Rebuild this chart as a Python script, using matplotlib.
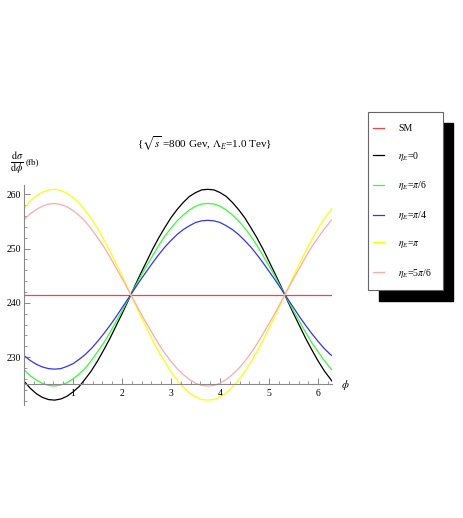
import numpy as np
import matplotlib
matplotlib.use("Agg")
import matplotlib.pyplot as plt
from matplotlib.patches import Rectangle
from matplotlib.lines import Line2D
from matplotlib.ticker import MultipleLocator

plt.rcParams['font.family'] = ['Liberation Serif', 'DejaVu Serif']
plt.rcParams['mathtext.fontset'] = 'stix'

phi = [0.0, 0.125, 0.25, 0.375, 0.5, 0.625, 0.75, 0.875, 1.0, 1.125, 1.25, 1.375,
       1.5, 1.625, 1.75, 1.875, 2.0, 2.125, 2.25, 2.375, 2.5, 2.625, 2.75, 2.875,
       3.0, 3.125, 3.25, 3.375, 3.5, 3.625, 3.75, 3.875, 4.0, 4.125, 4.25, 4.375,
       4.5, 4.625, 4.75, 4.875, 5.0, 5.125, 5.25, 5.375, 5.5, 5.625, 5.75, 5.875,
       6.0, 6.125, 6.25, 6.283]

sm = [241.5] * len(phi)
eta_0 = [225.6, 224.3, 223.3, 222.6, 222.2, 222.1, 222.3, 222.8, 223.6, 224.6, 226.0,
         227.5, 229.3, 231.3, 233.4, 235.7, 238.0, 240.4, 242.9, 245.3, 247.6, 249.9,
         252.0, 253.9, 255.7, 257.2, 258.5, 259.6, 260.3, 260.8, 260.9, 260.8, 260.3,
         259.6, 258.5, 257.2, 255.7, 253.9, 252.0, 249.9, 247.6, 245.3, 242.9, 240.4,
         238.0, 235.7, 233.4, 231.3, 229.3, 227.5, 226.0, 225.6]
eta_pi6 = [227.7, 226.6, 225.8, 225.2, 224.8, 224.7, 224.9, 225.3, 226.0, 226.9, 228.0,
           229.4, 231.0, 232.6, 234.5, 236.5, 238.5, 240.6, 242.7, 244.8, 246.8, 248.7,
           250.6, 252.3, 253.8, 255.1, 256.2, 257.1, 257.8, 258.2, 258.3, 258.2, 257.8,
           257.1, 256.2, 255.1, 253.8, 252.3, 250.6, 248.7, 246.8, 244.8, 242.7, 240.6,
           238.5, 236.5, 234.5, 232.6, 231.0, 229.4, 228.0, 227.7]
eta_pi4 = [230.3, 229.4, 228.7, 228.2, 227.9, 227.8, 227.9, 228.3, 228.8, 229.6, 230.5,
           231.6, 232.9, 234.3, 235.8, 237.4, 239.1, 240.8, 242.5, 244.2, 245.8, 247.4,
           248.9, 250.3, 251.5, 252.6, 253.5, 254.2, 254.8, 255.1, 255.2, 255.1, 254.8,
           254.2, 253.5, 252.6, 251.5, 250.3, 248.9, 247.4, 245.8, 244.2, 242.5, 240.8,
           239.1, 237.4, 235.8, 234.3, 232.9, 231.6, 230.5, 230.3]
eta_pi = [257.4, 258.7, 259.7, 260.4, 260.8, 260.9, 260.7, 260.2, 259.4, 258.4, 257.0,
          255.5, 253.7, 251.7, 249.6, 247.3, 245.0, 242.6, 240.1, 237.7, 235.4, 233.1,
          231.0, 229.1, 227.3, 225.8, 224.5, 223.4, 222.7, 222.2, 222.1, 222.2, 222.7,
          223.4, 224.5, 225.8, 227.3, 229.1, 231.0, 233.1, 235.4, 237.7, 240.1, 242.6,
          245.0, 247.3, 249.6, 251.7, 253.7, 255.5, 257.0, 257.4]
eta_5pi6 = [255.3, 256.4, 257.2, 257.8, 258.2, 258.3, 258.1, 257.7, 257.0, 256.1, 255.0,
            253.6, 252.0, 250.4, 248.5, 246.5, 244.5, 242.4, 240.3, 238.2, 236.2, 234.3,
            232.4, 230.7, 229.2, 227.9, 226.8, 225.9, 225.2, 224.8, 224.7, 224.8, 225.2,
            225.9, 226.8, 227.9, 229.2, 230.7, 232.4, 234.3, 236.2, 238.2, 240.3, 242.4,
            244.5, 246.5, 248.5, 250.4, 252.0, 253.6, 255.0, 255.3]

labels = ['SM', r'$\eta_E$=0', r'$\eta_E$=$\pi$/6', r'$\eta_E$=$\pi$/4',
          r'$\eta_E$=$\pi$', r'$\eta_E$=5$\pi$/6']
series = [sm, eta_0, eta_pi6, eta_pi4, eta_pi, eta_5pi6]
colors = ['#ff4040', '#000000', '#33ff33', '#3333ff', '#ffff00', '#ffaaaa']

W, H = 463, 518
fig = plt.figure(figsize=(W / 100, H / 100), dpi=100)
ax = fig.add_axes([24 / W, 1 - 405 / H, (332 - 24) / W, (405 - 185) / H])

for ys, c in zip(series, colors):
    ax.plot(phi, ys, color=c, lw=0.9)

ax.set_xlim(0, 2 * np.pi)
ax.set_ylim(221.2, 261.7)
for s in ['top', 'right']:
    ax.spines[s].set_visible(False)
ax.spines['left'].set_position(('data', 0))
ax.spines['bottom'].set_position(('data', 225))
for s in ['left', 'bottom']:
    ax.spines[s].set_color('#888888')
    ax.spines[s].set_linewidth(0.8)

ax.xaxis.set_major_locator(MultipleLocator(1))
ax.xaxis.set_minor_locator(MultipleLocator(0.2))
ax.yaxis.set_major_locator(MultipleLocator(10))
ax.yaxis.set_minor_locator(MultipleLocator(2))
ax.set_xticks([1, 2, 3, 4, 5, 6])
ax.set_xticklabels(['1', '2', '3', '4', '5', '6'])
ax.set_yticks([230, 240, 250, 260])
ax.tick_params(axis='both', which='major', direction='in', length=4, width=0.7,
               color='#888888', labelsize=7, pad=2)
ax.tick_params(axis='both', which='minor', direction='in', length=2, width=0.6,
               color='#888888')
ax.tick_params(axis='x', which='major', pad=3)
ax.patch.set_alpha(0)

fig.text(345 / W, 1 - 385 / H, r'$\phi$', fontsize=8, ha='center', va='center')
fig.text(205 / W, 1 - 144 / H, r'{$\sqrt{s}$ =800 Gev, $\Lambda_E$=1.0 Tev}',
         fontsize=8, ha='center', va='center')
fig.text(17 / W, 1 - 163 / H, r'$\frac{\mathrm{d}\sigma}{\mathrm{d}\phi}$',
         fontsize=10.5, ha='center', va='center')
fig.text(26 / W, 1 - 162 / H, '(fb)', fontsize=6.5, ha='left', va='center')

# legend box with shadow
fig.patches.append(Rectangle((379 / W, 1 - 301 / H), 74 / W, 178 / H,
                             transform=fig.transFigure, facecolor='black',
                             edgecolor='black', zorder=1))
fig.patches.append(Rectangle((368 / W, 1 - 290 / H), 75 / W, 178 / H,
                             transform=fig.transFigure, facecolor='white',
                             edgecolor='#666666', lw=0.8, zorder=2))
handles = [Line2D([], [], color=c, lw=0.9) for c in colors]
leg = fig.legend(handles, labels, loc='upper left',
                 bbox_to_anchor=(370 / W, 1 - 121 / H), frameon=False,
                 fontsize=7, handlelength=1.1, handletextpad=1.5,
                 labelspacing=1.72, borderaxespad=0, borderpad=0.3)
leg.set_zorder(3)

fig.savefig('out.png', dpi=100)
